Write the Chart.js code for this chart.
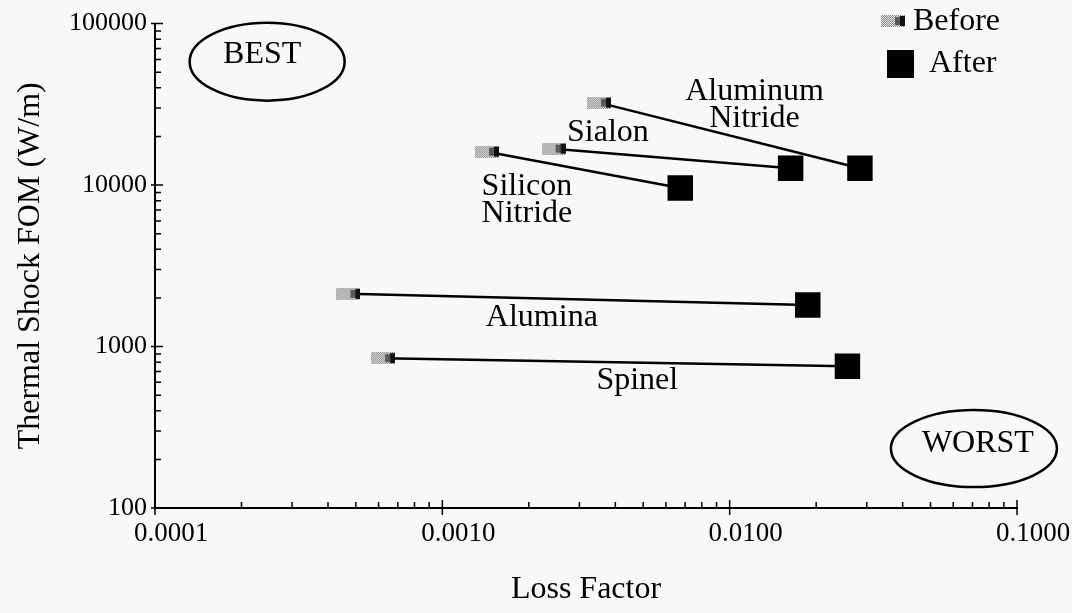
<!DOCTYPE html>
<html><head><meta charset="utf-8">
<script src="https://cdn.jsdelivr.net/npm/chart.js@4.4.1/dist/chart.umd.min.js"></script>
<style>html,body{margin:0;padding:0;background:#f8f8f8;}#wrap{width:1072px;height:613px;position:relative;}</style>
</head><body><div id="wrap"><canvas id="c"></canvas></div>
<script>
// ---- data ----
const materials = ['Aluminum Nitride', 'Sialon', 'Silicon Nitride', 'Alumina', 'Spinel'];
const beforeLoss = [0.00351, 0.00244, 0.00143, 0.000471, 0.000622];
const beforeFOM  = [32400, 16800, 16100, 2120, 847];
const afterLoss  = [0.0284, 0.0163, 0.00673, 0.0187, 0.0257];
const afterFOM   = [12700, 12700, 9600, 1810, 755];
const xTickValues = [0.0001, 0.001, 0.01, 0.1];
const yTickValues = [100, 1000, 10000, 100000];
const seriesNames = ['Before', 'After'];

// ---- annotation anchors (data units) ----
const materialLabels = [
  {lines: ['Aluminum', 'Nitride'], x: 0.0122, y: 31300},
  {lines: ['Sialon'], x: 0.00377, y: 21150},
  {lines: ['Silicon', 'Nitride'], x: 0.00197, y: 8030},
  {lines: ['Alumina'], x: 0.00222, y: 1518},
  {lines: ['Spinel'], x: 0.00477, y: 619}
];
const zoneLabels = [
  {text: 'BEST', x: 0.000236, y: 64700, dx: 5, dy: 7.5, rx: 77.5, ry: 39},
  {text: 'WORST', x: 0.0731, y: 250.5, dx: -4, dy: 5, rx: 83, ry: 38.5}
];

const FONT = '"Liberation Serif", "Times New Roman", serif';

function makeBeforeMarker() {
  const c = document.createElement('canvas');
  c.width = 24; c.height = 12;
  const g = c.getContext('2d');
  for (let i = 0; i < 24; i++) for (let j = 0; j < 12; j++) {
    g.fillStyle = ((i + j) % 2 === 0) ? '#e2e2e2' : '#8c8c8c';
    g.fillRect(i, j, 1, 1);
  }
  g.fillStyle = '#5a5a5a'; g.fillRect(14, 2, 5, 8);
  g.fillStyle = '#111'; g.fillRect(19, 1, 5, 10);
  return c;
}
const beforeImg = makeBeforeMarker();

const connectors = materials.map((m, i) => ({
  label: m,
  data: [{x: beforeLoss[i], y: beforeFOM[i]}, {x: afterLoss[i], y: afterFOM[i]}],
  showLine: true,
  borderColor: '#000',
  borderWidth: 2.5,
  pointRadius: 0,
  order: 5
}));

const beforeSet = {
  label: seriesNames[0],
  data: beforeLoss.map((v, i) => ({x: v, y: beforeFOM[i]})),
  pointStyle: beforeImg,
  pointRadius: 12,
  showLine: false,
  order: 1
};
const afterSet = {
  label: seriesNames[1],
  data: afterLoss.map((v, i) => ({x: v, y: afterFOM[i]})),
  pointStyle: 'rect',
  pointRadius: 18,
  backgroundColor: '#000',
  borderColor: '#000',
  borderWidth: 0,
  showLine: false,
  order: 1
};

const deco = {
  id: 'deco',
  beforeDatasetsDraw(chart) {
    const ctx = chart.ctx, xs = chart.scales.x, ys = chart.scales.y, a = chart.chartArea;
    ctx.save();
    ctx.strokeStyle = '#000';
    ctx.lineWidth = 1.5;
    ctx.beginPath();
    for (let e = 2; e <= 5; e++) {
      for (let k = 1; k <= 9; k++) {
        const v = k * Math.pow(10, e);
        if (v > ys.max * 1.0001) break;
        const p = ys.getPixelForValue(v);
        if (k === 1) { ctx.moveTo(a.left - 4, p); ctx.lineTo(a.left + 8, p); }
        else { ctx.moveTo(a.left, p); ctx.lineTo(a.left + 6, p); }
      }
    }
    for (let e = -4; e <= -1; e++) {
      for (let k = 1; k <= 9; k++) {
        const v = k * Math.pow(10, e);
        if (v > xs.max * 1.0001) break;
        const p = xs.getPixelForValue(v);
        if (k === 1) { ctx.moveTo(p, a.bottom - 8); ctx.lineTo(p, a.bottom + 7); }
        else { ctx.moveTo(p, a.bottom - 6); ctx.lineTo(p, a.bottom); }
      }
    }
    ctx.stroke();
    ctx.restore();
  },
  afterDatasetsDraw(chart) {
    const ctx = chart.ctx, xs = chart.scales.x, ys = chart.scales.y;
    ctx.save();
    ctx.fillStyle = '#000';
    ctx.strokeStyle = '#000';
    ctx.font = '32px ' + FONT;
    ctx.textAlign = 'center';
    ctx.textBaseline = 'middle';
    materialLabels.forEach(l => {
      const cx = xs.getPixelForValue(l.x), cy = ys.getPixelForValue(l.y);
      const lh = 27;
      const y0 = cy - (l.lines.length - 1) * lh / 2;
      l.lines.forEach((t, j) => ctx.fillText(t, cx, y0 + j * lh));
    });
    zoneLabels.forEach(z => {
      const cx = xs.getPixelForValue(z.x), cy = ys.getPixelForValue(z.y);
      ctx.fillText(z.text, cx, cy);
      ctx.lineWidth = 2.5;
      ctx.beginPath();
      ctx.ellipse(cx + z.dx, cy + z.dy, z.rx, z.ry, 0, 0, Math.PI * 2);
      ctx.stroke();
    });
    // legend
    ctx.textAlign = 'left';
    ctx.drawImage(beforeImg, 881, 15, 24, 12);
    ctx.fillText(seriesNames[0], 913, 22);
    ctx.fillRect(887, 50, 27, 28);
    ctx.fillText(seriesNames[1], 929, 64);
    ctx.restore();
  }
};

new Chart(document.getElementById('c'), {
  type: 'scatter',
  data: {datasets: [beforeSet, afterSet, ...connectors]},
  options: {
    responsive: true,
    maintainAspectRatio: false,
    animation: false,
    events: [],
    layout: {padding: {top: 23, right: 55, bottom: 0, left: 0}},
    plugins: {legend: {display: false}, tooltip: {enabled: false}},
    scales: {
      x: {
        type: 'logarithmic',
        min: 0.0001, max: 0.1,
        afterBuildTicks: s => { s.ticks = xTickValues.map(v => ({value: v})); },
        afterFit: s => { s.height = 105; },
        grid: {display: false, drawTicks: false, tickLength: 0},
        border: {display: true, color: '#000', width: 2},
        ticks: {
          color: '#000', font: {family: FONT, size: 27}, padding: 10,
          labelOffset: 16, maxRotation: 0, autoSkip: false,
          callback: v => Number(v).toFixed(4)
        },
        title: {display: true, text: 'Loss Factor', color: '#000',
          font: {family: FONT, size: 32}, padding: {top: 0, bottom: 4}}
      },
      y: {
        type: 'logarithmic',
        min: 100, max: 100000,
        afterBuildTicks: s => { s.ticks = yTickValues.map(v => ({value: v})); },
        afterFit: s => { s.width = 155; },
        grid: {display: false, drawTicks: false, tickLength: 0},
        border: {display: true, color: '#000', width: 2},
        ticks: {
          color: '#000', font: {family: FONT, size: 26}, padding: 8, autoSkip: false,
          callback: v => String(Math.round(v))
        },
        title: {display: true, text: 'Thermal Shock FOM (W/m)', color: '#000',
          font: {family: FONT, size: 32}, padding: {top: 11, bottom: 0}}
      }
    }
  },
  plugins: [deco]
});
</script>
</body></html>
